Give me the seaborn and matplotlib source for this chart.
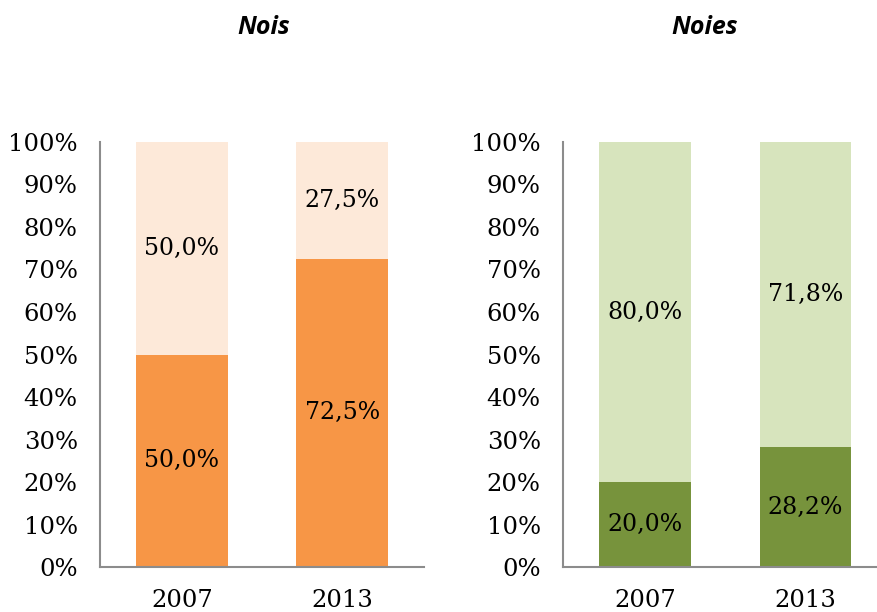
import matplotlib
matplotlib.use("Agg")
import matplotlib.pyplot as plt
import seaborn as sns

years = ["2007", "2013"]
nois_low = [0.500, 0.725]
nois_high = [0.500, 0.275]
noies_low = [0.200, 0.282]
noies_high = [0.800, 0.718]

sns.set_style("white")
plt.rcParams['font.family'] = ['DejaVu Serif']

fig = plt.figure(figsize=(8.77, 6.12), dpi=100)
ax1 = fig.add_axes([0.114, 0.0735, 0.3695, 0.6945])
ax2 = fig.add_axes([0.642, 0.0735, 0.3695, 0.6945])

panels = [
    (ax1, nois_low, nois_high, "#F79646", "#FDE9D9"),
    (ax2, noies_low, noies_high, "#77933C", "#D7E4BD"),
]

for ax, low, high, dark, light in panels:
    totals = [a + b for a, b in zip(low, high)]
    sns.barplot(x=years, y=totals, color=light, width=0.57, linewidth=0,
                saturation=1, ax=ax)
    sns.barplot(x=years, y=low, color=dark, width=0.57, linewidth=0,
                saturation=1, ax=ax)
    for i, (a, b) in enumerate(zip(low, high)):
        ax.text(i, a / 2, f"{a*100:.1f}%".replace(".", ","), ha="center",
                va="center", fontsize=17, color="black")
        ax.text(i, a + b / 2, f"{b*100:.1f}%".replace(".", ","), ha="center",
                va="center", fontsize=17, color="black")
    ax.set_ylim(0, 1)
    ax.set_xlim(-0.51, 1.51)
    ax.set_yticks([i / 10 for i in range(11)])
    ax.set_yticklabels([f"{i*10}%" for i in range(11)])
    ax.tick_params(axis="both", length=0, labelsize=17.5, colors="black")
    ax.tick_params(axis="y", pad=16)
    ax.tick_params(axis="x", pad=16)
    ax.set_xlabel("")
    ax.set_ylabel("")
    for s in ["top", "right"]:
        ax.spines[s].set_visible(False)
    for s in ["left", "bottom"]:
        ax.spines[s].set_color("#8c8c8c")
        ax.spines[s].set_linewidth(1.5)

fig.text(264 / 877, 1 - 27 / 612, "Nois", ha="center", va="center",
         family="Open Sans", weight="bold", style="italic", fontsize=18,
         color="black")
fig.text(705 / 877, 1 - 27 / 612, "Noies", ha="center", va="center",
         family="Open Sans", weight="bold", style="italic", fontsize=18,
         color="black")

fig.savefig("out.png", dpi=100)
